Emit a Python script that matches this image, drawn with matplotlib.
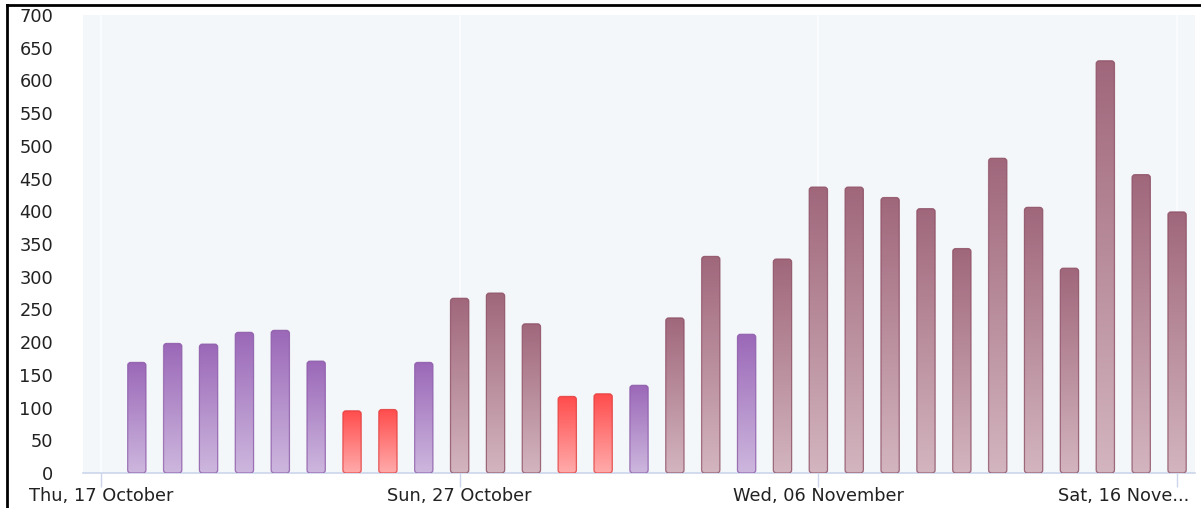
import datetime as dt

import matplotlib
matplotlib.use("Agg")
import matplotlib.dates as mdates
import matplotlib.pyplot as plt
import numpy as np
from matplotlib.colors import LinearSegmentedColormap
from matplotlib.lines import Line2D
from matplotlib.patches import FancyBboxPatch
from matplotlib.transforms import ScaledTranslation

# ---- data -------------------------------------------------------------
start_day = dt.date(2019, 10, 18)
values = [169, 198, 197, 215, 218, 171, 95, 97, 169, 267,
          275, 228, 117, 121, 134, 237, 331, 212, 327, 437,
          437, 421, 404, 343, 481, 406, 313, 630, 456, 399]
kinds = ["purple"] * 6 + ["red", "red", "purple", "mauve",
         "mauve", "mauve", "red", "red", "purple", "mauve",
         "mauve", "purple"] + ["mauve"] * 12
days = [start_day + dt.timedelta(days=i) for i in range(len(values))]

tick_days = [dt.date(2019, 10, 17), dt.date(2019, 10, 27),
             dt.date(2019, 11, 6), dt.date(2019, 11, 16)]
tick_labels = ["Thu, 17 October", "Sun, 27 October",
               "Wed, 06 November", "Sat, 16 Nove..."]
y_ticks = list(range(0, 701, 50))

# ---- styles -----------------------------------------------------------
palette = {
    "purple": ("#9b68b8", "#cdb7de", "#8a58a8"),
    "red":    ("#ff4c4c", "#ffabab", "#e23a3a"),
    "mauve":  ("#a0677b", "#d3b5bf", "#8c4d63"),
}
label_size = 12.8
label_color = "#222222"

W, H, DPI = 1201, 508, 100
fig = plt.figure(figsize=(W / DPI, H / DPI), dpi=DPI)
fig.patch.set_facecolor("white")

ax_l, ax_r, ax_t, ax_b = 83, 1195, 15, 473
ax = fig.add_axes([ax_l / W, 1 - ax_b / H, (ax_r - ax_l) / W, (ax_b - ax_t) / H])
ax.set_facecolor("#f4f7f9")

x0 = mdates.date2num(dt.datetime(2019, 10, 16, 12))
x1 = mdates.date2num(dt.datetime(2019, 11, 16, 12))
ax.set_xlim(x0, x1)
ax.set_ylim(0, 700)

bar_w = 0.51
bars = ax.bar(days, values, width=bar_w, color="none", edgecolor="none", zorder=3)

grad = np.linspace(1, 0, 256).reshape(-1, 1)
# corner rounding: ~3 px in both directions
px_per_day = (ax_r - ax_l) / (x1 - x0)
px_per_unit = (ax_b - ax_t) / 700
r_x = 3.0 / px_per_day
aspect = px_per_day / px_per_unit

for rect, kind in zip(bars.patches, kinds):
    top_c, bot_c, edge_c = palette[kind]
    cmap = LinearSegmentedColormap.from_list(kind, [bot_c, top_c])
    bx, by = rect.get_x(), rect.get_y()
    bw, bh = rect.get_width(), rect.get_height()
    shape = FancyBboxPatch((bx, by), bw, bh,
                           boxstyle=f"round,pad=0,rounding_size={r_x}",
                           mutation_aspect=aspect,
                           facecolor="none", edgecolor=edge_c, lw=0.9,
                           alpha=0.8, zorder=4)
    ax.add_patch(shape)
    img = ax.imshow(grad, cmap=cmap, aspect="auto",
                    extent=(bx, bx + bw, by, by + bh),
                    origin="upper", zorder=3, interpolation="bilinear")
    img.set_clip_path(shape)

ax.set_xlim(x0, x1)
ax.set_ylim(0, 700)

# ---- axes decoration -------------------------------------------------
for s in ("top", "right", "left"):
    ax.spines[s].set_visible(False)
ax.spines["bottom"].set_color("#ccd6eb")
ax.spines["bottom"].set_linewidth(1.2)

ax.set_xticks([mdates.date2num(d) for d in tick_days])
ax.set_xticklabels(tick_labels)
ax.tick_params(axis="x", length=10, color="#ccd6eb", width=1,
               labelsize=label_size, labelcolor=label_color, pad=0)
for t in tick_days:
    ax.axvline(mdates.date2num(t), color="#fbfcfd", lw=1.2, zorder=1)

last = ax.get_xticklabels()[-1]
last.set_horizontalalignment("right")
last.set_transform(last.get_transform() + ScaledTranslation(12 / DPI, 0, fig.dpi_scale_trans))

ax.set_yticks(y_ticks)
ax.set_yticklabels([str(v) for v in y_ticks])
ax.tick_params(axis="y", length=0, labelsize=label_size, labelcolor=label_color,
               pad=30 * 72 / DPI)

# outer frame (top and left edges)
fig.add_artist(Line2D([7 / W, 1], [1 - 5 / H, 1 - 5 / H], color="black", lw=2,
                      transform=fig.transFigure))
fig.add_artist(Line2D([7 / W, 7 / W], [0, 1 - 5 / H], color="black", lw=2,
                      transform=fig.transFigure))

fig.savefig("out.png", dpi=DPI)
